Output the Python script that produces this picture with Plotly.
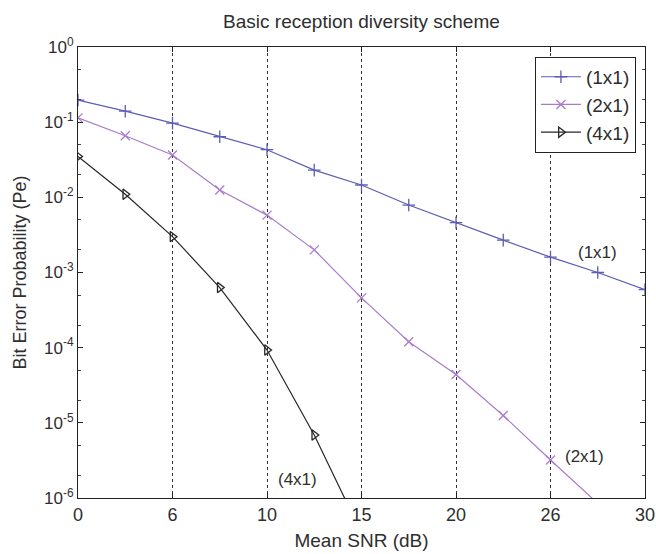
import plotly.graph_objects as go

# Mean SNR grid (dB) at which the BER was evaluated
snr_db = [0, 2.5, 5, 7.5, 10, 12.5, 15, 17.5, 20, 22.5, 25, 27.5, 30]

# Bit error probability for each receive-diversity configuration
ber_1x1 = [0.197, 0.14, 0.097, 0.064, 0.043, 0.023, 0.0146, 0.0079, 0.0046, 0.0027, 0.0016, 0.001, 0.00059]
ber_2x1 = [0.114, 0.066, 0.0366, 0.0125, 0.0058, 0.0020, 0.00046, 0.00012, 4.4e-5, 1.25e-5, 3.2e-6, 8.5e-7]
ber_4x1 = [0.035, 0.011, 0.0030, 6.3e-4, 9.3e-5, 6.9e-6, 3.4e-7]

x_tickvals = [0, 5, 10, 15, 20, 25, 30]
x_ticktext = ["0", "6", "10", "15", "20", "26", "30"]
y_tickvals = [1, 1e-1, 1e-2, 1e-3, 1e-4, 1e-5, 1e-6]
y_ticktext = ["10<sup>0</sup>", "10<sup>-1</sup>", "10<sup>-2</sup>", "10<sup>-3</sup>",
              "10<sup>-4</sup>", "10<sup>-5</sup>", "10<sup>-6</sup>"]

series_names = ["(1x1)", "(2x1)", "(4x1)"]
series_colors = ["#5c5cb4", "#a97ccb", "#262626"]
series_symbols = ["cross-thin", "x-thin", "triangle-right-open"]

# Curve labels placed next to each curve (x in dB, y as log10 of BER)
label_x = [27.5, 26.8, 11.6]
label_logy = [-2.74, -5.45, -5.76]

FONT = "Liberation Sans, Arial, sans-serif"
TXT = "#2e2e2e"

fig = go.Figure()
for name, xs, ys, col, sym in zip(series_names,
                                   [snr_db, snr_db[:len(ber_2x1)], snr_db[:len(ber_4x1)]],
                                   [ber_1x1, ber_2x1, ber_4x1],
                                   series_colors, series_symbols):
    fig.add_trace(go.Scatter(
        x=xs, y=ys, name=name, mode="lines+markers",
        line=dict(color=col, width=1.2),
        marker=dict(symbol=sym, size=9, color=col, line=dict(color=col, width=1.3)),
    ))

for txt, lx, ly in zip(series_names, label_x, label_logy):
    fig.add_annotation(x=lx, y=ly, xref="x", yref="y", text=txt, showarrow=False,
                       font=dict(family=FONT, size=17, color=TXT))

fig.update_layout(
    width=656, height=554,
    margin=dict(l=78, r=11, t=47, b=56),
    paper_bgcolor="white", plot_bgcolor="white",
    font=dict(family=FONT, size=16, color=TXT),
    title=dict(text="Basic reception diversity scheme", x=0.551, xanchor="center",
               y=0.961, yanchor="middle", font=dict(family=FONT, size=19, color=TXT)),
    legend=dict(x=0.984, y=0.978, xanchor="right", yanchor="top",
                bgcolor="white", bordercolor="#222222", borderwidth=1,
                font=dict(family=FONT, size=19, color=TXT),
                tracegroupgap=0, itemwidth=40),
    showlegend=True,
)

fig.update_xaxes(
    range=[0, 30], tickvals=x_tickvals, ticktext=x_ticktext, automargin=False,
    ticklabeloverflow="allow",
    showline=True, linecolor="#222222", linewidth=1, mirror="ticks",
    ticks="inside", ticklen=5, tickcolor="#222222",
    showgrid=True, gridcolor="#333333", gridwidth=1, griddash="dot",
    zeroline=False,
    title=dict(text="Mean SNR (dB)", standoff=10, font=dict(family=FONT, size=19)),
    tickfont=dict(family=FONT, size=18),
)
fig.update_yaxes(
    type="log", range=[-6, 0], tickvals=y_tickvals, ticktext=y_ticktext, automargin=False,
    ticklabeloverflow="allow",
    showline=True, linecolor="#222222", linewidth=1, mirror="ticks",
    ticks="inside", ticklen=5, tickcolor="#222222",
    minor=dict(ticks="inside", ticklen=3, tickcolor="#444444", showgrid=False),
    showgrid=False, zeroline=False,
    title=dict(text="Bit Error Probability (Pe)", standoff=12, font=dict(family=FONT, size=18)),
    tickfont=dict(family=FONT, size=17),
)

fig.write_html("out.html")
